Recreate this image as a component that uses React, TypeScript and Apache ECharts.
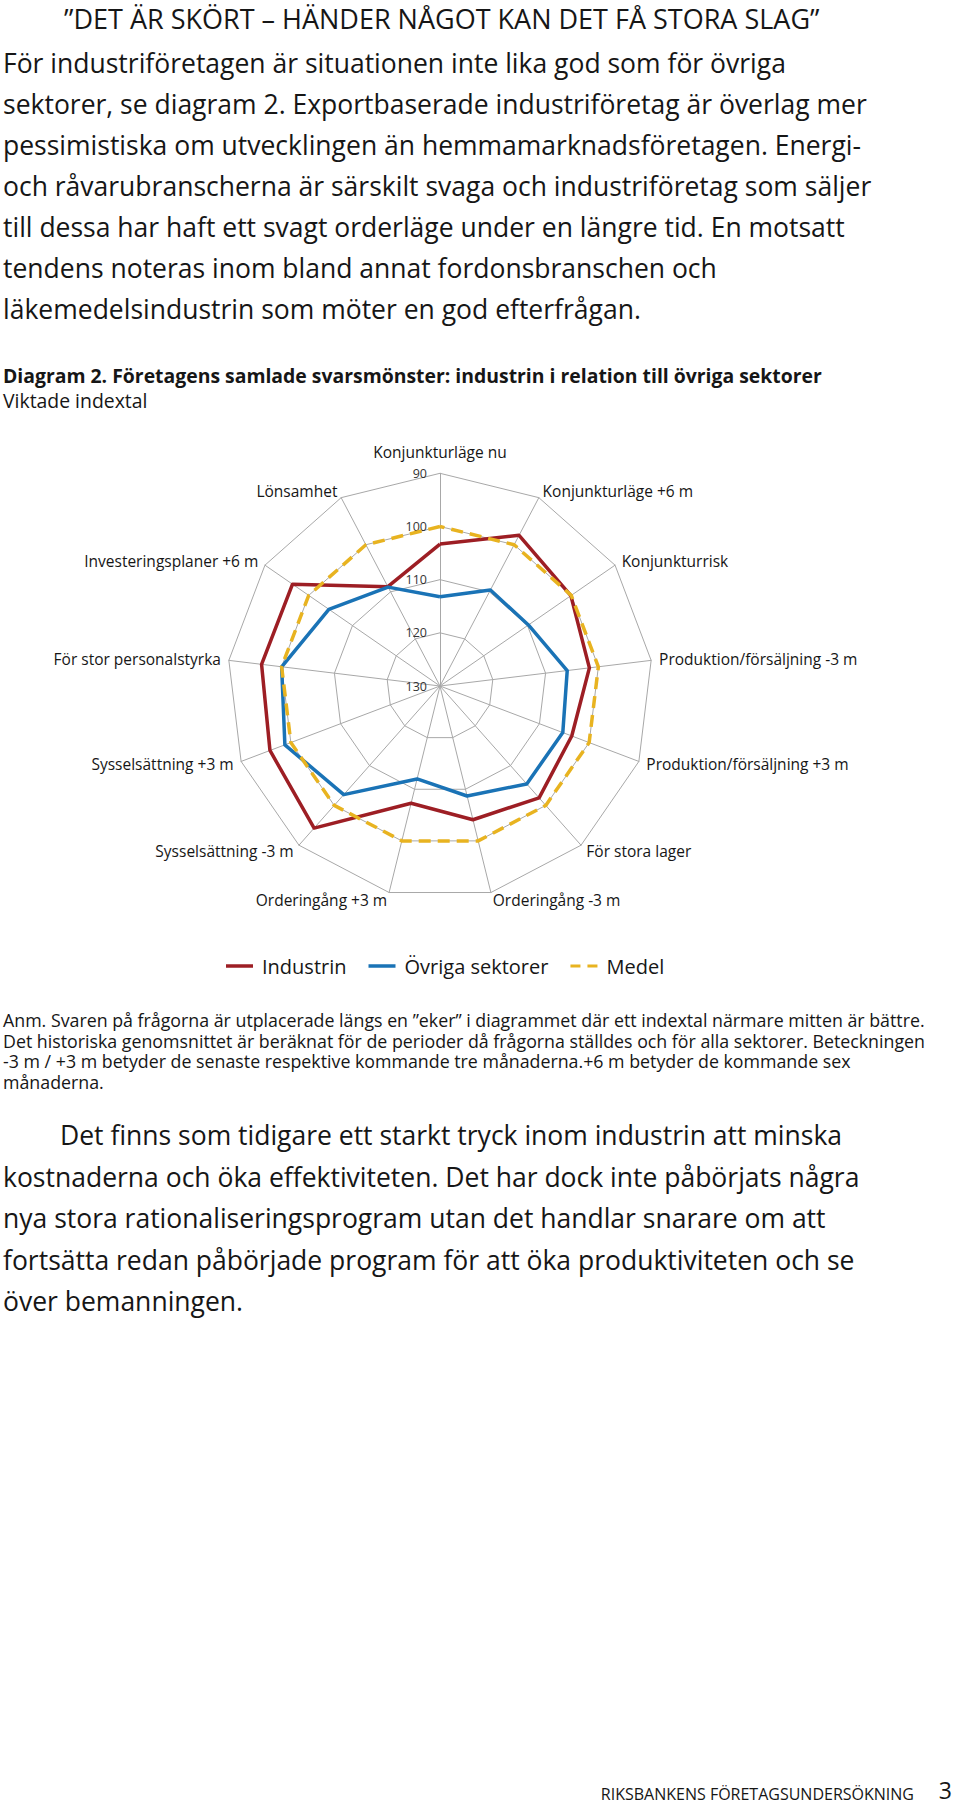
import React, { useEffect, useRef } from "react";
import * as echarts from "echarts";

// ---------- data ----------
const categories = [
  "Konjunkturläge nu",
  "Konjunkturläge +6 m",
  "Konjunkturrisk",
  "Produktion/försäljning -3 m",
  "Produktion/försäljning +3 m",
  "För stora lager",
  "Orderingång -3 m",
  "Orderingång +3 m",
  "Sysselsättning -3 m",
  "Sysselsättning +3 m",
  "För stor personalstyrka",
  "Investeringsplaner +6 m",
  "Lönsamhet",
];
const industrin = [103.3, 98.0, 100.1, 101.7, 103.5, 101.9, 104.1, 107.3, 94.3, 95.8, 96.2, 96.3, 108.9];
const ovrigaSektorer = [113.2, 109.6, 109.8, 105.9, 105.3, 105.4, 108.7, 112.0, 102.7, 98.8, 100.0, 104.6, 109.0];
const medel = [100, 100, 100, 100, 100, 100, 100, 100, 100, 100, 100, 100, 100];
const seriesNames = ["Industrin", "Övriga sektorer", "Medel"];
const axisOuter = 90; // value on the outer ring
const axisCenter = 130; // value at the centre
const axisStep = 10;

// ---------- texts ----------
const headline = "”DET ÄR SKÖRT – HÄNDER NÅGOT KAN DET FÅ STORA SLAG”";
const paragraph1 = [
  "För industriföretagen är situationen inte lika god som för övriga",
  "sektorer, se diagram 2. Exportbaserade industriföretag är överlag mer",
  "pessimistiska om utvecklingen än hemmamarknadsföretagen. Energi-",
  "och råvarubranscherna är särskilt svaga och industriföretag som säljer",
  "till dessa har haft ett svagt orderläge under en längre tid. En motsatt",
  "tendens noteras inom bland annat fordonsbranschen och",
  "läkemedelsindustrin som möter en god efterfrågan.",
];
const chartTitle = "Diagram 2. Företagens samlade svarsmönster: industrin i relation till övriga sektorer";
const chartSubtitle = "Viktade indextal";
const noteLines = [
  "Anm. Svaren på frågorna är utplacerade längs en ”eker” i diagrammet där ett indextal närmare mitten är bättre.",
  "Det historiska genomsnittet är beräknat för de perioder då frågorna ställdes och för alla sektorer. Beteckningen",
  "-3 m / +3 m betyder de senaste respektive kommande tre månaderna.+6 m betyder de kommande sex",
  "månaderna.",
];
const paragraph2 = [
  "Det finns som tidigare ett starkt tryck inom industrin att minska",
  "kostnaderna och öka effektiviteten. Det har dock inte påbörjats några",
  "nya stora rationaliseringsprogram utan det handlar snarare om att",
  "fortsätta redan påbörjade program för att öka produktiviteten och se",
  "över bemanningen.",
];
const footer = "RIKSBANKENS FÖRETAGSUNDERSÖKNING";
const pageNumber = "3";

const FONT = "'Open Sans', 'Noto Sans', sans-serif";
const TEXT = "#161616";
const RED = "#9d1e24";
const BLUE = "#1a73b6";
const GOLD = "#e8b320";
const GRID = "#a8a8a8";

function txt(text: string, x: number, y: number, size: number, extra: any = {}) {
  return {
    type: "text",
    x,
    y,
    silent: true,
    style: {
      text,
      fontSize: size,
      lineHeight: Math.round(size),
      fontFamily: FONT,
      fill: TEXT,
      verticalAlign: "middle",
      align: "left",
      ...extra,
    },
  };
}

export default function App() {
  const ref = useRef<HTMLDivElement>(null);

  useEffect(() => {
    if (!ref.current) return;
    const chart = echarts.init(ref.current, null, { renderer: "svg" });

    const flip = (v: number) => axisOuter + axisCenter - v;
    // ECharts lays radar indicators out counter-clockwise; the reference runs clockwise
    const order = categories.map((_, i) => (i === 0 ? 0 : categories.length - i));

    const indicator = order.map((k, j) => {
      const ind: any = { name: categories[k], min: axisOuter, max: axisCenter };
      if (j === 0) {
        ind.nameGap = 13;
        ind.axisLabel = {
          show: true,
          fontSize: 12.5,
          fontFamily: FONT,
          color: "#333",
          margin: 13,
          formatter: (v: number) => String(flip(v)),
        };
      }
      return ind;
    });

    const raw = [industrin, ovrigaSektorer, medel];
    const colors = [RED, BLUE, GOLD];
    const dataItems = raw.map((vals, s) => ({
      name: seriesNames[s],
      value: order.map((k) => flip(vals[k])),
      itemStyle: { color: colors[s] },
      lineStyle: {
        color: colors[s],
        width: 3.5,
        type: s === 2 ? [12, 7] : "solid",
        cap: "butt",
      },
    }));

    const graphics: any[] = [];
    graphics.push(txt(headline, 64, 18, 27));
    paragraph1.forEach((l, i) => graphics.push(txt(l, 3, 63 + i * 41, 26.5)));
    graphics.push(txt(chartTitle, 3, 375, 19.4, { fontWeight: "bold", lineHeight: 19 }));
    graphics.push(txt(chartSubtitle, 3, 400, 19.4, { lineHeight: 19 }));
    noteLines.forEach((l, i) => graphics.push(txt(l, 3, 1020 + i * 20.7, 17.8, { lineHeight: 18 })));
    paragraph2.forEach((l, i) => graphics.push(txt(l, i === 0 ? 60 : 3, 1135 + i * 41.5, 26.5)));
    graphics.push(txt(footer, 914, 1794, 16, { align: "right" }));
    graphics.push(txt(pageNumber, 952, 1790, 23, { align: "right", lineHeight: 22 }));

    chart.setOption({
      animation: false,
      backgroundColor: "#ffffff",
      legend: {
        left: 221,
        top: 951,
        itemWidth: 27,
        itemHeight: 3.5,
        itemGap: 22,
        selectedMode: false,
        textStyle: { fontSize: 20, fontFamily: FONT, color: TEXT, padding: [0, 0, 0, 4] },
        data: [
          { name: seriesNames[0], icon: "rect" },
          { name: seriesNames[1], icon: "rect" },
          { name: seriesNames[2], icon: "path://M0,0H10V3H0Z M17,0H27V3H17Z" },
        ],
      },
      radar: {
        center: [440, 686],
        radius: 212.7,
        startAngle: 90,
        shape: "polygon",
        splitNumber: (axisCenter - axisOuter) / axisStep,
        axisNameGap: 8,
        axisName: { color: TEXT, fontSize: 15.5, fontFamily: FONT },
        axisLine: { lineStyle: { color: GRID, width: 1 } },
        splitLine: { lineStyle: { color: GRID, width: 1 } },
        splitArea: { show: false },
        axisTick: { show: false },
        axisLabel: { show: false },
        indicator,
      },
      series: [
        {
          type: "radar",
          symbol: "none",
          silent: true,
          data: dataItems,
        },
      ],
      graphic: graphics,
    });

    return () => chart.dispose();
  }, []);

  return (
    <div
      ref={ref}
      style={{ position: "absolute", left: 0, top: 0, width: 960, height: 1807, background: "#fff" }}
    />
  );
}
